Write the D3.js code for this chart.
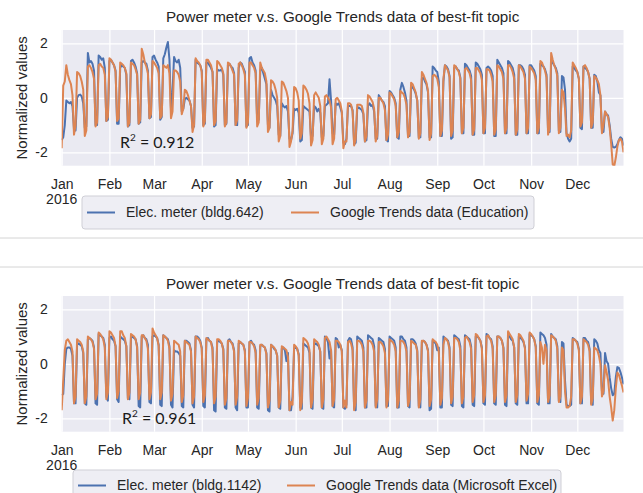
<!DOCTYPE html>
<html>
<head>
<meta charset="utf-8">
<script src="https://cdn.jsdelivr.net/npm/d3@7.9.0/dist/d3.min.js"></script>
<style>
  body { margin: 0; background: #fff; }
  svg { display: block; font-family: "Liberation Sans", Arial, sans-serif; }
</style>
</head>
<body>
<svg id="chart" width="643" height="493"></svg>
<script>
// daily values for 2016: first row is Fri Jan 1 - Sun Jan 3, then one row per week (Mon..Sun)
const meter642 = [
  [-1.55, -1.45, -1.0],
  [-0.1, -0.15, -0.2, -0.15, -0.3, -1.15, -1.2],
  [0.0, 0.1, 0.12, 0.05, -0.2, -1.1, -1.05],
  [1.65, 1.3, 1.35, 1.25, 1.0, -1.0, -1.0],
  [1.55, 1.5, 1.4, 1.45, 1.1, -0.85, -0.8],
  [1.35, 1.4, 1.3, 1.2, 1.0, -0.95, -0.95],
  [1.1, 1.2, 1.15, 1.1, 0.85, -1.05, -1.0],
  [1.35, 1.4, 1.3, 1.15, 0.9, -0.95, -0.9],
  [1.3, 1.35, 1.3, 1.25, 1.0, -0.75, -0.7],
  [1.5, 1.55, 1.4, 1.3, 1.15, -0.8, -0.7],
  [1.45, 1.6, 1.85, 2.05, 1.4, -0.4, 0.2],
  [1.5, 1.35, 1.3, 1.4, 1.1, -0.5, -0.4],
  [-0.05, 0.0, -0.05, -0.1, -0.3, -1.1, -1.05],
  [1.4, 1.3, 1.25, 1.2, 1.0, -1.0, -0.95],
  [1.3, 1.3, 1.2, 1.1, 0.95, -1.05, -1.0],
  [1.05, 1.0, 1.0, 1.05, 0.85, -1.0, -0.95],
  [1.2, 1.25, 1.15, 1.1, 0.9, -1.0, -1.0],
  [1.1, 1.3, 1.25, 1.1, 0.95, -1.05, -1.0],
  [1.45, 1.5, 1.3, 1.2, 1.0, -0.85, -0.8],
  [1.0, 1.1, 0.9, 0.7, 0.5, -1.0, -1.1],
  [0.3, 0.1, 0.0, -0.1, -0.3, -1.35, -1.4],
  [-0.2, -0.3, -0.35, -0.3, -0.5, -1.5, -1.55],
  [-1.3, -0.4, -0.45, -0.4, -0.55, -1.6, -1.55],
  [-0.3, -0.35, -0.4, -0.45, -0.5, -1.45, -1.4],
  [-0.3, -0.35, -0.5, -0.4, -0.55, -1.45, -1.4],
  [-0.3, -0.25, -0.2, 0.68, -0.1, -1.3, -1.35],
  [-0.2, -0.25, -0.2, -0.35, -0.55, -1.65, -1.7],
  [-1.5, -0.3, -0.3, -0.3, -0.45, -1.7, -1.65],
  [-0.4, -0.35, -0.4, -0.45, -0.6, -1.6, -1.55],
  [-0.3, -0.2, -0.3, -0.25, -0.5, -1.5, -1.5],
  [0.1, 0.0, -0.1, -0.15, -0.3, -1.55, -1.6],
  [0.25, 0.2, 0.1, 0.0, -0.2, -1.45, -1.5],
  [0.3, 0.55, 0.4, 0.2, -0.1, -1.4, -1.4],
  [0.35, 0.4, 0.3, 0.15, -0.1, -1.45, -1.45],
  [0.7, 0.75, 0.6, 0.5, 0.2, -1.45, -1.45],
  [1.15, 1.1, 1.0, 0.95, 0.6, -1.4, -1.4],
  [0.6, 1.2, 1.15, 1.05, 0.8, -1.5, -1.45],
  [1.1, 1.15, 1.05, 1.0, 0.75, -1.3, -1.3],
  [1.25, 1.2, 1.1, 1.0, 0.8, -1.35, -1.35],
  [1.3, 1.25, 1.15, 1.05, 0.85, -1.3, -1.3],
  [1.1, 1.15, 1.1, 1.0, 0.8, -1.4, -1.4],
  [1.4, 1.3, 1.2, 1.1, 0.9, -1.3, -1.3],
  [1.35, 1.3, 1.2, 1.1, 0.85, -1.35, -1.35],
  [1.2, 1.2, 1.15, 1.05, 0.85, -1.3, -1.3],
  [1.2, 1.2, 1.1, 1.0, 0.8, -1.3, -1.3],
  [1.25, 1.2, 1.15, 1.05, 0.85, -1.25, -1.25],
  [1.35, 1.3, 1.2, 1.1, 0.9, -1.2, -1.25],
  [0.8, 0.75, 0.3, -1.3, -1.5, -1.6, -1.5],
  [1.15, 1.1, 1.0, 0.95, 0.7, -1.1, -1.15],
  [1.15, 1.1, 1.05, 0.95, 0.7, -1.1, -1.1],
  [0.85, 0.8, 0.6, 0.2, 0.1, -1.2, -1.25],
  [-0.5, -0.6, -0.65, -1.0, -1.5, -1.8, -1.82],
  [-1.8, -1.7, -1.55, -1.45, -1.5, -1.75]
];

const trendsEducation = [
  [-1.85, 0.45, 0.6],
  [1.2, 0.85, 0.65, 0.5, 0.1, -1.35, -1.0],
  [0.95, 0.9, 0.8, 0.6, 0.3, -1.4, -1.2],
  [1.15, 1.2, 1.1, 0.95, 0.7, -1.05, -0.9],
  [1.2, 1.25, 1.15, 1.1, 0.85, -0.85, -0.7],
  [1.45, 1.4, 1.3, 1.2, 0.95, -0.85, -0.75],
  [1.3, 1.25, 1.2, 1.1, 0.9, -1.05, -0.9],
  [1.3, 1.25, 1.2, 1.05, 0.85, -0.95, -0.8],
  [1.8, 1.6, 1.3, 1.15, 0.9, -0.75, -0.6],
  [1.35, 1.3, 1.2, 1.1, 0.9, -0.75, -0.65],
  [1.2, 1.15, 1.1, 1.2, 0.9, -0.75, -0.5],
  [1.0, 1.0, 0.95, 0.85, 0.6, -0.6, -0.4],
  [0.3, 0.25, 0.1, -0.1, -0.3, -1.25, -1.0],
  [1.45, 1.35, 1.3, 1.2, 0.95, -1.05, -0.85],
  [1.4, 1.4, 1.3, 1.2, 0.95, -1.0, -0.85],
  [1.35, 1.3, 1.2, 1.1, 0.9, -1.05, -0.9],
  [1.3, 1.25, 1.15, 1.0, 0.85, -1.0, -0.8],
  [1.25, 1.3, 1.2, 1.05, 0.85, -1.1, -0.9],
  [1.3, 1.3, 1.2, 1.1, 0.9, -1.05, -0.9],
  [1.3, 1.1, 1.0, 0.9, 0.6, -1.25, -1.1],
  [0.65, 0.6, 0.5, 0.3, 0.0, -1.6, -1.4],
  [0.6, 0.55, 0.4, 0.25, 0.0, -1.8, -1.6],
  [-1.2, 0.4, 0.35, 0.2, -0.1, -1.5, -1.3],
  [0.45, 0.4, 0.3, 0.15, -0.2, -1.75, -1.55],
  [0.1, 0.2, 0.1, 0.0, -0.3, -1.7, -1.5],
  [0.05, 0.1, 0.0, -0.1, -0.35, -1.7, -1.5],
  [-0.05, 0.0, -0.1, -0.2, -0.5, -1.85, -1.6],
  [-1.6, -0.2, -0.2, -0.25, -0.5, -1.75, -1.5],
  [-0.25, -0.25, -0.25, -0.3, -0.55, -1.6, -1.4],
  [0.1, 0.05, -0.05, -0.15, -0.4, -1.6, -1.4],
  [0.0, 0.0, -0.1, -0.2, -0.45, -1.55, -1.35],
  [0.2, 0.15, 0.05, -0.05, -0.3, -1.45, -1.25],
  [0.25, 0.2, 0.15, 0.0, -0.25, -1.45, -1.25],
  [0.55, 0.5, 0.35, 0.2, -0.1, -1.5, -1.3],
  [0.95, 0.85, 0.7, 0.55, 0.25, -1.55, -1.3],
  [0.8, 0.85, 0.8, 0.7, 0.4, -1.4, -1.2],
  [0.7, 1.2, 1.1, 1.0, 0.75, -1.4, -1.2],
  [1.2, 1.15, 1.05, 0.95, 0.7, -1.3, -1.1],
  [1.05, 1.1, 1.0, 0.9, 0.65, -1.35, -1.15],
  [1.1, 1.1, 1.0, 0.9, 0.65, -1.3, -1.1],
  [1.05, 1.05, 1.0, 0.85, 0.6, -1.35, -1.15],
  [1.2, 1.15, 1.05, 0.95, 0.7, -1.3, -1.1],
  [1.2, 1.2, 1.1, 0.95, 0.7, -1.35, -1.15],
  [1.2, 1.15, 1.05, 0.95, 0.7, -1.3, -1.1],
  [1.15, 1.1, 1.0, 0.9, 0.65, -1.3, -1.1],
  [1.35, 1.3, 1.15, 1.0, 0.75, -1.35, -1.1],
  [1.65, 1.4, 1.2, 1.05, 0.8, -1.3, -1.1],
  [0.3, 0.2, -0.4, -1.4, -1.35, -1.45, -1.2],
  [1.3, 1.2, 1.1, 0.95, 0.7, -1.05, -0.9],
  [1.15, 1.2, 1.1, 0.95, 0.7, -1.1, -0.9],
  [0.8, 0.75, 0.65, 0.5, 0.1, -1.3, -1.0],
  [-0.5, -0.6, -0.7, -1.1, -1.7, -2.45, -2.5],
  [-2.2, -1.8, -1.55, -1.5, -1.6, -2.0]
];

const meter1142 = [
  [-1.15, -1.1, 0.0],
  [0.55, 0.6, 0.6, 0.55, 0.3, -1.45, -1.45],
  [0.7, 0.75, 0.7, 0.65, 0.4, -1.45, -1.5],
  [0.9, 0.95, 0.9, 0.85, 0.6, -1.45, -1.5],
  [1.1, 1.05, 1.0, 0.95, 0.7, -1.2, -1.35],
  [0.95, 1.0, 0.9, 0.85, 0.65, -1.3, -1.4],
  [1.0, 0.95, 0.9, 0.85, 0.65, -1.25, -1.3],
  [0.95, 1.0, 0.95, 0.9, 0.65, -1.55, -1.6],
  [1.0, 1.05, 0.95, 0.9, 0.7, -1.4, -1.45],
  [1.0, 1.05, 1.0, 0.95, 0.7, -1.5, -1.55],
  [1.05, 1.0, 0.95, 0.9, 0.65, -1.5, -1.6],
  [0.5, 0.45, 0.45, 0.4, 0.3, -1.55, -1.6],
  [0.85, 0.85, 0.8, 0.75, 0.5, -1.5, -1.6],
  [1.0, 1.0, 0.95, 0.85, 0.6, -1.55, -1.6],
  [0.9, 0.95, 0.85, 0.8, 0.6, -1.7, -1.75],
  [0.8, 0.85, 0.8, 0.75, 0.55, -1.6, -1.65],
  [0.85, 0.9, 0.8, 0.75, 0.5, -1.6, -1.7],
  [0.75, 0.8, 0.75, 0.7, 0.5, -1.6, -1.6],
  [0.8, 0.85, 0.75, 0.7, 0.5, -1.6, -1.65],
  [0.65, 0.7, 0.65, 0.6, 0.4, -1.7, -1.75],
  [0.7, 0.65, 0.55, 0.5, 0.3, -1.6, -1.65],
  [0.55, 0.6, 0.5, 0.1, 0.4, -1.7, -1.7],
  [-1.2, 0.55, 0.6, 0.55, 0.35, -1.6, -1.65],
  [0.75, 0.7, 0.65, 0.6, 0.4, -1.6, -1.65],
  [0.7, 0.75, 0.7, 0.65, 0.45, -1.6, -1.65],
  [1.0, 0.95, 0.8, 0.2, 0.5, -1.55, -1.6],
  [0.95, 0.9, 0.6, 0.7, 0.5, -1.6, -1.65],
  [-1.5, 0.85, 0.95, 0.9, 0.6, -1.65, -1.7],
  [1.0, 0.95, 0.9, 0.85, 0.6, -1.6, -1.6],
  [1.05, 1.0, 0.95, 0.9, 0.65, -1.55, -1.6],
  [0.95, 0.9, 0.85, 0.8, 0.55, -1.55, -1.55],
  [1.0, 0.95, 0.9, 0.85, 0.6, -1.6, -1.6],
  [1.0, 1.0, 0.9, 0.85, 0.6, -1.55, -1.6],
  [0.9, 0.9, 0.85, 0.75, 0.5, -1.55, -1.6],
  [0.8, 0.85, 0.8, 0.7, 0.5, -1.7, -1.65],
  [0.85, 0.8, 0.75, 0.5, 0.6, -1.6, -1.6],
  [1.0, 0.95, 0.9, 0.85, 0.6, -1.5, -1.55],
  [1.05, 1.0, 0.95, 0.9, 0.65, -1.55, -1.6],
  [1.05, 1.0, 0.95, 0.9, 0.65, -1.5, -1.55],
  [1.0, 1.0, 0.95, 0.85, 0.6, -1.45, -1.5],
  [1.1, 1.05, 0.95, 0.9, 0.65, -1.45, -1.5],
  [1.0, 1.0, 0.95, 0.85, 0.6, -1.5, -1.55],
  [1.05, 1.0, 0.9, 0.85, 0.6, -1.45, -1.5],
  [1.0, 0.95, 0.9, 0.8, 0.6, -1.45, -1.45],
  [1.1, 1.05, 1.0, 0.9, 0.65, -1.45, -1.5],
  [1.15, 1.1, 1.05, 0.95, 0.7, -1.45, -1.45],
  [1.1, 1.0, 0.95, 0.9, 0.65, -1.35, -1.4],
  [0.8, 0.75, -0.6, -1.5, -1.55, -1.55, -1.5],
  [0.95, 0.9, 0.85, 0.8, 0.55, -1.45, -1.45],
  [0.95, 0.95, 0.85, 0.8, 0.55, -1.45, -1.5],
  [0.9, 0.85, 0.75, 0.5, 0.4, -1.0, -1.1],
  [0.4, 0.1, 0.0, -0.5, -0.9, -1.15, -1.1],
  [-0.5, -0.12, -0.15, -0.3, -0.5, -0.75]
];

const trendsExcel = [
  [-1.7, -0.6, 0.5],
  [0.85, 0.9, 0.8, 0.7, 0.45, -1.45, -1.2],
  [0.9, 0.85, 0.8, 0.7, 0.45, -1.45, -1.2],
  [1.0, 0.95, 0.9, 0.8, 0.55, -1.3, -1.1],
  [1.15, 1.1, 1.0, 0.9, 0.6, -1.3, -1.05],
  [1.2, 1.15, 1.05, 0.95, 0.65, -1.25, -1.0],
  [1.2, 1.2, 1.05, 0.95, 0.65, -1.3, -1.05],
  [1.1, 1.05, 1.0, 0.9, 0.6, -1.3, -1.05],
  [1.05, 1.05, 0.95, 0.85, 0.55, -1.3, -1.05],
  [1.3, 1.15, 1.05, 0.95, 0.65, -1.3, -1.05],
  [1.05, 1.0, 0.95, 0.85, 0.55, -1.35, -1.1],
  [0.85, 0.8, 0.75, 0.7, 0.45, -1.4, -1.15],
  [0.85, 0.8, 0.75, 0.7, 0.45, -1.45, -1.2],
  [1.0, 0.95, 0.9, 0.8, 0.55, -1.4, -1.15],
  [0.95, 0.9, 0.85, 0.8, 0.5, -1.45, -1.2],
  [0.9, 0.9, 0.85, 0.75, 0.5, -1.5, -1.25],
  [0.85, 0.85, 0.8, 0.7, 0.45, -1.5, -1.2],
  [0.85, 0.8, 0.75, 0.7, 0.45, -1.55, -1.25],
  [0.8, 0.8, 0.75, 0.65, 0.4, -1.5, -1.25],
  [0.7, 0.7, 0.65, 0.6, 0.35, -1.6, -1.35],
  [0.7, 0.65, 0.6, 0.5, 0.3, -1.6, -1.35],
  [0.65, 0.6, 0.55, 0.5, 0.25, -1.7, -1.4],
  [-1.5, 0.7, 0.65, 0.55, 0.3, -1.7, -1.4],
  [0.95, 0.9, 0.85, 0.75, 0.5, -1.6, -1.3],
  [0.9, 0.85, 0.8, 0.7, 0.45, -1.6, -1.3],
  [0.95, 1.0, 0.9, 0.8, 0.5, -1.55, -1.3],
  [0.85, 0.85, 0.8, 0.7, 0.45, -1.6, -1.35],
  [-1.6, 0.8, 0.85, 0.75, 0.5, -1.7, -1.4],
  [0.85, 0.85, 0.8, 0.7, 0.45, -1.6, -1.35],
  [0.85, 0.85, 0.8, 0.7, 0.45, -1.6, -1.3],
  [0.8, 0.8, 0.75, 0.65, 0.4, -1.6, -1.3],
  [0.9, 0.85, 0.8, 0.7, 0.45, -1.6, -1.35],
  [0.85, 0.85, 0.8, 0.7, 0.45, -1.55, -1.3],
  [0.85, 0.8, 0.75, 0.7, 0.45, -1.6, -1.3],
  [0.85, 0.85, 0.8, 0.7, 0.45, -1.55, -1.3],
  [0.9, 0.85, 0.8, 0.7, 0.45, -1.5, -1.25],
  [0.7, 0.95, 0.9, 0.8, 0.5, -1.45, -1.2],
  [0.95, 0.95, 0.9, 0.8, 0.5, -1.45, -1.2],
  [0.95, 1.0, 0.9, 0.8, 0.55, -1.4, -1.15],
  [1.1, 1.05, 0.95, 0.85, 0.55, -1.4, -1.15],
  [1.0, 1.05, 0.95, 0.85, 0.55, -1.4, -1.15],
  [1.0, 1.0, 0.95, 0.85, 0.55, -1.4, -1.15],
  [1.2, 1.1, 1.0, 0.9, 0.6, -1.4, -1.15],
  [1.1, 1.05, 0.95, 0.85, 0.55, -1.35, -1.1],
  [1.15, 1.1, 1.0, 0.9, 0.6, -1.4, -1.15],
  [0.8, 0.6, 0.0, 0.7, 0.5, -1.4, -1.15],
  [1.05, 1.0, 0.95, 0.85, 0.55, -1.4, -1.2],
  [0.6, 0.5, -1.0, -1.6, -1.6, -1.55, -1.2],
  [0.9, 0.9, 0.85, 0.75, 0.5, -1.45, -1.2],
  [0.9, 0.85, 0.8, 0.7, 0.45, -1.5, -1.25],
  [0.6, 0.55, 0.5, 0.3, 0.0, -1.2, -1.0],
  [-0.05, -0.3, -0.6, -1.2, -1.6, -2.08, -1.7],
  [-0.9, -0.32, -0.4, -0.6, -0.8, -1.05]
];

const yTicks = [-2, 0, 2];
const titleText = "Power meter v.s. Google Trends data of best-fit topic";

const panels = [
  {
    blue: meter642, orange: trendsEducation, r2: "0.912",
    legend: ["Elec. meter (bldg.642)", "Google Trends data (Education)"],
    top: 30, bottom: 165.7, titleY: 22, secondItem: 204,
    legendBox: { x: 82, y: 196, w: 452, h: 33 }, r2Pos: { x: 120, y: 148 }
  },
  {
    blue: meter1142, orange: trendsExcel, r2: "0.961",
    legend: ["Elec. meter (bldg.1142)", "Google Trends data (Microsoft Excel)"],
    top: 296, bottom: 431.7, titleY: 289, secondItem: 209,
    legendBox: { x: 73, y: 470, w: 488, h: 31 }, r2Pos: { x: 122, y: 424 }
  }
];

const svg = d3.select("#chart");
const left = 61.7;
const right = 623.5;
const blueColor = "#4C72B0";
const orangeColor = "#DD8452";
const textColor = "#262626";
const start = new Date(Date.UTC(2016, 0, 1));
const end = new Date(Date.UTC(2016, 11, 31));

const x = d3.scaleUtc().domain([start, end]).range([left, right]);

function toDaily(rows) {
  return rows.flat().map((value, i) => ({ date: d3.utcDay.offset(start, i), value }));
}

// separators between the two figures
svg.append("g").selectAll("line")
  .data([238, 267])
  .join("line")
  .attr("x1", 0).attr("x2", 643)
  .attr("y1", (d) => d).attr("y2", (d) => d)
  .attr("stroke", "#d4d4d4").attr("stroke-width", 1);

panels.forEach((p, idx) => {
  const y = d3.scaleLinear().domain([-2.49, 2.49]).range([p.bottom, p.top]);
  const g = svg.append("g");
  const h = p.bottom - p.top;

  g.append("rect")
    .attr("x", left).attr("y", p.top)
    .attr("width", right - left).attr("height", h)
    .attr("fill", "#EAEAF2");

  const xAxis = g.append("g")
    .attr("transform", `translate(0,${p.bottom})`)
    .call(d3.axisBottom(x).ticks(d3.utcMonth.every(1)).tickSize(-h).tickPadding(13.5)
      .tickFormat(d3.utcFormat("%b")));
  xAxis.select(".domain").remove();
  xAxis.selectAll("line").attr("stroke", "#fff").attr("stroke-width", 1.2);
  xAxis.selectAll("text").attr("fill", textColor).style("font-size", "14px")
    .style("font-family", '"Liberation Sans", Arial, sans-serif');

  // year under the first month label
  g.append("text")
    .attr("x", x(start)).attr("y", p.bottom + 38.5)
    .attr("text-anchor", "middle")
    .attr("fill", textColor)
    .style("font-size", "14px")
    .text("2016");

  const yAxis = g.append("g")
    .attr("transform", `translate(${left},0)`)
    .call(d3.axisLeft(y).tickValues(yTicks).tickSize(-(right - left)).tickPadding(14)
      .tickFormat((d) => String(d)));
  yAxis.select(".domain").remove();
  yAxis.selectAll("line").attr("stroke", "#fff").attr("stroke-width", 1.2);
  yAxis.selectAll("text").attr("fill", textColor).style("font-size", "14px")
    .style("font-family", '"Liberation Sans", Arial, sans-serif');

  g.append("clipPath").attr("id", `clip${idx}`)
    .append("rect")
    .attr("x", left).attr("y", p.top)
    .attr("width", right - left).attr("height", h);

  const line = d3.line().x((d) => x(d.date)).y((d) => y(d.value));

  [[p.blue, blueColor], [p.orange, orangeColor]].forEach(([rows, color]) => {
    g.append("path")
      .datum(toDaily(rows))
      .attr("clip-path", `url(#clip${idx})`)
      .attr("fill", "none")
      .attr("stroke", color)
      .attr("stroke-width", 2)
      .attr("stroke-linejoin", "round")
      .attr("d", line);
  });

  g.append("text")
    .attr("x", (left + right) / 2).attr("y", p.titleY)
    .attr("text-anchor", "middle")
    .attr("fill", textColor)
    .style("font-size", "15.2px")
    .text(titleText);

  g.append("text")
    .attr("transform", `translate(22,${(p.top + p.bottom) / 2}) rotate(-90)`)
    .attr("text-anchor", "middle")
    .attr("dy", "0.35em")
    .attr("fill", textColor)
    .style("font-size", "15px")
    .text("Normalized values");

  const r2 = g.append("text")
    .attr("x", p.r2Pos.x).attr("y", p.r2Pos.y)
    .attr("fill", "#1a1a1a")
    .style("font-family", "Lato, 'Open Sans', sans-serif")
    .style("font-size", "16px");
  r2.append("tspan").text("R");
  r2.append("tspan").attr("dy", -7).style("font-size", "10px").text("2");
  r2.append("tspan").attr("dy", 7).text(` = ${p.r2}`);

  const lb = p.legendBox;
  const lg = g.append("g");
  lg.append("rect")
    .attr("x", lb.x).attr("y", lb.y).attr("width", lb.w).attr("height", lb.h)
    .attr("rx", 3)
    .attr("fill", "#EEEEF4").attr("stroke", "#cfcfd6");
  const cy = lb.y + lb.h / 2;
  const itemX = [lb.x + 5, lb.x + 5 + p.secondItem];
  [blueColor, orangeColor].forEach((color, i) => {
    lg.append("line")
      .attr("x1", itemX[i]).attr("x2", itemX[i] + 28)
      .attr("y1", cy).attr("y2", cy)
      .attr("stroke", color).attr("stroke-width", 2);
    lg.append("text")
      .attr("x", itemX[i] + 39).attr("y", cy).attr("dy", "0.35em")
      .attr("fill", textColor)
      .style("font-size", "14px")
      .text(p.legend[i]);
  });
});
</script>
</body>
</html>
